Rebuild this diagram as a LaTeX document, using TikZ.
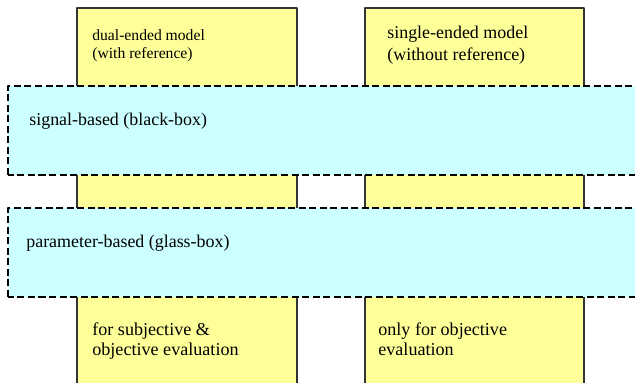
\documentclass[tikz,border=0pt]{standalone}
\usepackage{fontspec}
\setmainfont{Liberation Serif}
\definecolor{paleyellow}{HTML}{FFFF99}
\definecolor{palecyan}{HTML}{CCFFFF}
\tikzset{
	column/.style={fill=paleyellow, draw=black!80, line width=0.6pt},
	band/.style={fill=palecyan, draw=black, line width=1.1pt, dash pattern=on 4pt off 2pt},
	label/.style={anchor=base west, align=left, inner sep=0pt, font=\fontsize{10.2}{12}\selectfont}
}
\begin{document}
\begin{tikzpicture}[line join = round, line cap = butt]
			\useasboundingbox (0,0) rectangle (12.7,7.66);
			\clip (0,0) rectangle (12.7,7.66);
			% two model columns
			\foreach \a/\b in {1.54/5.94,7.30/11.68}
			\draw [column] (\a,-0.2) rectangle (\b,7.50);
			% two dashed bands
			\foreach \a/\b in {4.16/5.94,1.72/3.50}
			\draw [band] (0.16,\a) rectangle (13.2,\b);
			% multi-line labels sit on their last line
			\node [label, font=\fontsize{8.9}{10.3}\selectfont] (dual) at (1.84,6.49) {dual-ended model\\(with reference)};
			\node [label, font=\fontsize{10.2}{13}\selectfont] (single) at (7.74,6.44) {single-ended model\\(without reference)};
			\node [label] (signal) at (0.58,5.14) {signal-based (black-box)};
			\node [label] (param) at (0.52,2.70) {parameter-based (glass-box)};
			\node [label, font=\fontsize{10.3}{11.9}\selectfont] (subj) at (1.84,0.54) {for subjective \&\\objective evaluation};
			\node [label, font=\fontsize{10.3}{11.9}\selectfont] (obj) at (7.56,0.54) {only for objective\\evaluation};
		\end{tikzpicture}
\end{document}
